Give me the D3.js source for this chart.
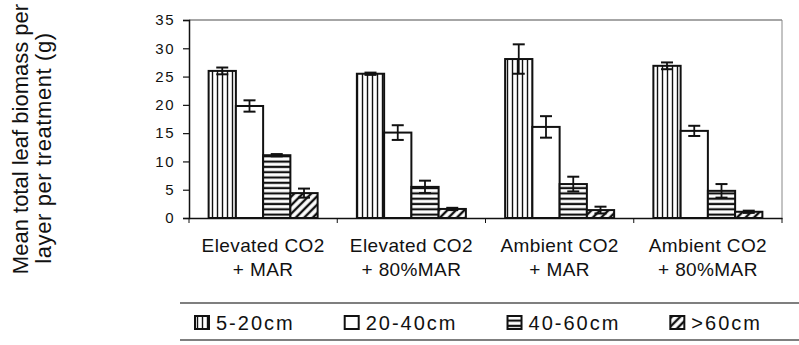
<!DOCTYPE html>
<html>
<head>
<meta charset="utf-8">
<script src="https://cdn.jsdelivr.net/npm/d3@7.9.0/dist/d3.min.js"></script>
<style>
  body { margin: 0; background: #fff; }
  svg { display: block; font-family: "Liberation Sans", Arial, sans-serif; }
</style>
</head>
<body>
<div id="viz"></div>
<script>
// Data
const categories = ["Elevated CO2|+ MAR", "Elevated CO2|+ 80%MAR", "Ambient CO2|+ MAR", "Ambient CO2|+ 80%MAR"];
const layers = ["5-20cm", "20-40cm", "40-60cm", ">60cm"];
const mean_5_20 = [26.0, 25.5, 28.1, 26.9];
const mean_20_40 = [19.8, 15.1, 16.1, 15.4];
const mean_40_60 = [11.1, 5.5, 6.0, 4.8];
const mean_60 = [4.4, 1.6, 1.4, 1.1];
const err_5_20 = [0.6, 0.2, 2.6, 0.6];
const err_20_40 = [1.0, 1.3, 1.9, 0.9];
const err_40_60 = [0.2, 1.1, 1.3, 1.2];
const err_60 = [0.8, 0.2, 0.6, 0.2];
const yTicks = [0, 5, 10, 15, 20, 25, 30, 35];

const means = [mean_5_20, mean_20_40, mean_40_60, mean_60];
const errs = [err_5_20, err_20_40, err_40_60, err_60];
const fills = ["url(#vert)", "#fff", "url(#horiz)", "url(#diag)"];

const W = 799, H = 345;
const svg = d3.select("#viz").append("svg").attr("width", W).attr("height", H);

// patterns
const defs = svg.append("defs");
let p = defs.append("pattern").attr("id", "vert").attr("patternUnits", "userSpaceOnUse")
  .attr("width", 5).attr("height", 10);
p.append("rect").attr("width", 5).attr("height", 10).attr("fill", "#fff");
p.append("line").attr("x1", 2.5).attr("x2", 2.5).attr("y1", 0).attr("y2", 10)
  .attr("stroke", "#111").attr("stroke-width", 1.4);

p = defs.append("pattern").attr("id", "horiz").attr("patternUnits", "userSpaceOnUse")
  .attr("width", 10).attr("height", 5.3);
p.append("rect").attr("width", 10).attr("height", 5.3).attr("fill", "#fff");
p.append("line").attr("x1", 0).attr("x2", 10).attr("y1", 2.6).attr("y2", 2.6)
  .attr("stroke", "#111").attr("stroke-width", 2.2);

p = defs.append("pattern").attr("id", "diag").attr("patternUnits", "userSpaceOnUse")
  .attr("width", 6).attr("height", 6).attr("patternTransform", "rotate(45)");
p.append("rect").attr("width", 6).attr("height", 6).attr("fill", "#fff");
p.append("line").attr("x1", 3).attr("x2", 3).attr("y1", 0).attr("y2", 6)
  .attr("stroke", "#111").attr("stroke-width", 2.4);

// scales
const x0 = d3.scaleBand().domain(categories).range([189, 782]);
const groupW = 109;
const x1 = d3.scaleBand().domain(layers).range([0, groupW]);
const y = d3.scaleLinear().domain([0, 35]).range([218, 20]);

// plot frame (top/right light border)
svg.append("line").attr("x1", 189).attr("x2", 782).attr("y1", y(35)).attr("y2", y(35))
  .attr("stroke", "#888").attr("stroke-width", 1.5);
svg.append("line").attr("x1", 782).attr("x2", 782).attr("y1", y(35)).attr("y2", y(0))
  .attr("stroke", "#888").attr("stroke-width", 1);

// y axis
const yAxis = svg.append("g").attr("transform", "translate(189,0)")
  .call(d3.axisLeft(y).tickValues(yTicks).tickSize(6).tickPadding(8));
yAxis.select(".domain").attr("stroke", "#111").attr("stroke-width", 1.5);
yAxis.selectAll(".tick line").attr("stroke", "#111").attr("stroke-width", 1.2);
yAxis.selectAll("text").attr("font-size", 15).attr("letter-spacing", 1.5).attr("fill", "#111")
  .attr("font-family", "Liberation Sans, Arial, sans-serif");

// x axis
const xAxis = svg.append("g").attr("transform", "translate(0,218)")
  .call(d3.axisBottom(x0).tickValues([]).tickSizeOuter(0));
xAxis.select(".domain").attr("stroke", "#111").attr("stroke-width", 1.5);
// category boundary ticks
svg.append("g").selectAll("line")
  .data(categories.concat(["end"]))
  .join("line")
  .attr("x1", (d, i) => i < categories.length ? x0(d) : x0.range()[1])
  .attr("x2", (d, i) => i < categories.length ? x0(d) : x0.range()[1])
  .attr("y1", 218).attr("y2", 223)
  .attr("stroke", "#111").attr("stroke-width", 1);

// bars
const pad = (x0.bandwidth() - groupW) / 2;
layers.forEach((layer, li) => {
  const g = svg.append("g");
  const data = categories.map((c, ci) => ({ c, v: means[li][ci], e: errs[li][ci] }));
  g.selectAll("rect").data(data).join("rect")
    .attr("x", d => x0(d.c) + pad + x1(layer))
    .attr("y", d => y(d.v))
    .attr("width", x1.bandwidth())
    .attr("height", d => y(0) - y(d.v))
    .attr("fill", fills[li])
    .attr("stroke", "#111").attr("stroke-width", 2);

  // error bars
  const eb = g.selectAll("g.err").data(data).join("g").attr("class", "err")
    .attr("transform", d => `translate(${x0(d.c) + pad + x1(layer) + x1.bandwidth() / 2},0)`);
  eb.append("line").attr("x1", 0).attr("x2", 0)
    .attr("y1", d => y(d.v + d.e)).attr("y2", d => y(d.v - d.e))
    .attr("stroke", "#111").attr("stroke-width", 1.8);
  eb.append("line").attr("x1", -6).attr("x2", 6)
    .attr("y1", d => y(d.v + d.e)).attr("y2", d => y(d.v + d.e))
    .attr("stroke", "#111").attr("stroke-width", 2);
  eb.append("line").attr("x1", -6).attr("x2", 6)
    .attr("y1", d => y(d.v - d.e)).attr("y2", d => y(d.v - d.e))
    .attr("stroke", "#111").attr("stroke-width", 2);
});

// category labels
const cx = d => x0(d) + x0.bandwidth() / 2;
const lab = svg.append("g").selectAll("text").data(categories).join("text")
  .attr("x", cx)
  .attr("text-anchor", "middle")
  .attr("font-size", 19).attr("letter-spacing", 0.4).attr("fill", "#111");
lab.append("tspan").attr("x", cx).attr("y", 252).text(d => d.split("|")[0]);
lab.append("tspan").attr("x", cx).attr("y", 276).text(d => d.split("|")[1]);

// y title
const yt = svg.append("g").attr("fill", "#111").attr("font-size", 22).attr("text-anchor", "middle");
yt.append("text").attr("transform", "translate(28,139) rotate(-90)").text("Mean total leaf biomass per");
yt.append("text").attr("transform", "translate(51,148) rotate(-90)")
  .attr("letter-spacing", 0.6).text("layer per treatment (g)");

// legend
svg.append("line").attr("x1", 180).attr("x2", 799).attr("y1", 303).attr("y2", 303)
  .attr("stroke", "#555").attr("stroke-width", 1.3);
svg.append("line").attr("x1", 180).attr("x2", 799).attr("y1", 340).attr("y2", 340)
  .attr("stroke", "#555").attr("stroke-width", 1.3);

const legendFills = ["url(#vert)", "#fff", "url(#horiz)", "url(#diag)"];
let lx = 195;
layers.forEach((layer, li) => {
  svg.append("rect").attr("x", lx).attr("y", 316).attr("width", 14).attr("height", 13)
    .attr("fill", legendFills[li]).attr("stroke", "#111").attr("stroke-width", 2);
  const t = svg.append("text").attr("x", lx + 21).attr("y", 330)
    .attr("font-size", 20).attr("letter-spacing", 2).attr("fill", "#111").text(layer);
  lx = lx + 21 + t.node().getComputedTextLength() + 50;
});
</script>
</body>
</html>
